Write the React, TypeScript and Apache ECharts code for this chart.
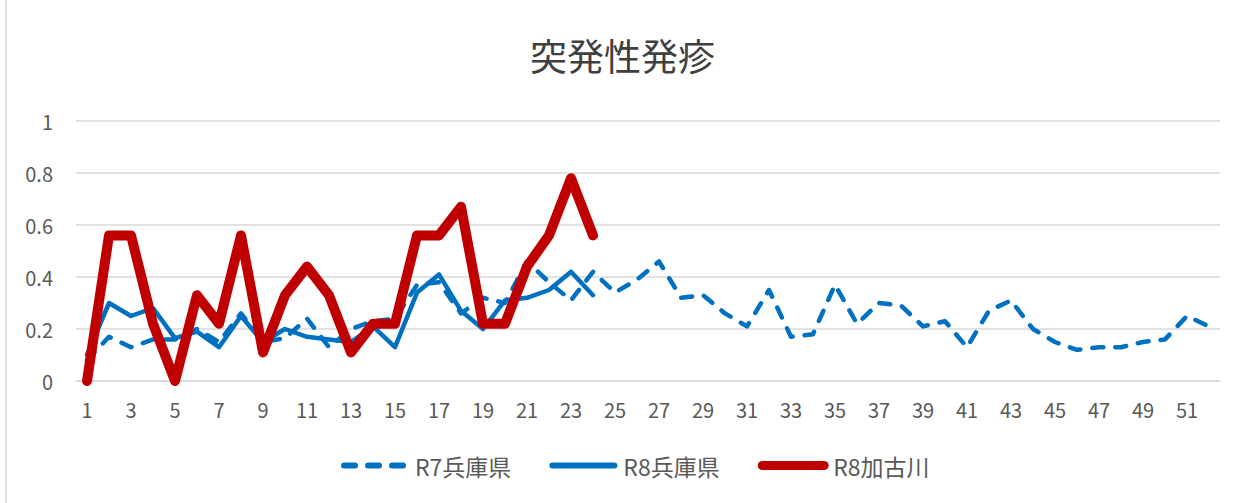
import React, { useEffect, useRef } from "react";
import * as echarts from "echarts";

const weeks: string[] = Array.from({ length: 52 }, (_, i) => String(i + 1));

const r7Hyogo: number[] = [
  0.08, 0.17, 0.13, 0.16, 0.16, 0.2, 0.15, 0.26, 0.15, 0.165,
  0.24, 0.13, 0.2, 0.23, 0.24, 0.37, 0.38, 0.26, 0.32, 0.3,
  0.46, 0.38, 0.31, 0.42, 0.34, 0.39, 0.46, 0.32, 0.33, 0.26,
  0.21, 0.35, 0.17, 0.18, 0.37, 0.22, 0.3, 0.29, 0.21, 0.23,
  0.13, 0.27, 0.31, 0.2, 0.15, 0.12, 0.13, 0.13, 0.15, 0.16,
  0.25, 0.21,
];

const r8Hyogo: number[] = [
  0.1, 0.3, 0.25, 0.28, 0.165, 0.19, 0.13, 0.25, 0.15, 0.2,
  0.17, 0.16, 0.15, 0.21, 0.13, 0.34, 0.41, 0.27, 0.2, 0.31,
  0.32, 0.35, 0.42, 0.33,
];

const r8Kakogawa: number[] = [
  0, 0.56, 0.56, 0.22, 0, 0.33, 0.22, 0.56, 0.11, 0.33,
  0.44, 0.33, 0.11, 0.22, 0.22, 0.56, 0.56, 0.67, 0.22, 0.22,
  0.44, 0.56, 0.78, 0.56,
];

const seriesNames = ["R7兵庫県", "R8兵庫県", "R8加古川"];
const titleText = "突発性発疹";

const FONT = '"Noto Sans CJK JP", "Noto Sans", sans-serif';
const BLUE = "#0070C0";
const RED = "#C00000";

export default function App() {
  const ref = useRef<HTMLDivElement>(null);

  useEffect(() => {
    if (!ref.current) return;
    const chart = echarts.init(ref.current, null, { renderer: "svg" });
    chart.setOption({
      animation: false,
      backgroundColor: "#ffffff",
      textStyle: { fontFamily: FONT },
      title: {
        text: titleText,
        left: "center",
        top: 31,
        textStyle: {
          fontSize: 37,
          fontWeight: "normal",
          color: "#404040",
          fontFamily: FONT,
        },
      },
      graphic: [
        {
          type: "line",
          shape: { x1: 6, y1: 0, x2: 6, y2: 503 },
          style: { stroke: "#d9d9d9", lineWidth: 1.5 },
          silent: true,
        },
      ],
      legend: {
        data: [
          { name: seriesNames[0], lineStyle: { width: 6, type: [11, 13], cap: "round", color: BLUE } },
          { name: seriesNames[1], lineStyle: { width: 6, type: "solid", cap: "round", color: BLUE } },
          { name: seriesNames[2], lineStyle: { width: 9, type: "solid", cap: "round", color: RED } },
        ],
        top: 449,
        left: 336,
        itemWidth: 62,
        itemHeight: 14,
        itemGap: 38,
        itemStyle: { opacity: 0 },
        textStyle: { fontSize: 23, color: "#595959", fontFamily: FONT, padding: [0, 0, 0, 4] },
      },
      grid: { left: 76, right: 25, top: 121, bottom: 122, containLabel: false },
      xAxis: {
        type: "category",
        data: weeks,
        boundaryGap: true,
        axisLine: { lineStyle: { color: "#d9d9d9", width: 1.5 } },
        axisTick: { show: false },
        axisLabel: {
          interval: 1,
          fontSize: 20,
          color: "#595959",
          margin: 18,
          fontFamily: FONT,
        },
      },
      yAxis: {
        type: "value",
        min: 0,
        max: 1,
        interval: 0.2,
        axisLine: { show: false },
        axisTick: { show: false },
        axisLabel: {
          fontSize: 20,
          color: "#595959",
          margin: 23,
          fontFamily: FONT,
        },
        splitLine: { lineStyle: { color: "#d9d9d9", width: 1.5 } },
      },
      series: [
        {
          name: seriesNames[0],
          type: "line",
          data: r7Hyogo,
          symbol: "none",
          color: BLUE,
          lineStyle: { color: BLUE, width: 4.5, type: [11, 12], cap: "round", join: "round" },
        },
        {
          name: seriesNames[1],
          type: "line",
          data: r8Hyogo,
          symbol: "none",
          color: BLUE,
          lineStyle: { color: BLUE, width: 4.5, type: "solid", cap: "round", join: "round" },
        },
        {
          name: seriesNames[2],
          type: "line",
          data: r8Kakogawa,
          symbol: "none",
          color: RED,
          lineStyle: { color: RED, width: 10, type: "solid", cap: "round", join: "round" },
        },
      ],
    });
    return () => chart.dispose();
  }, []);

  return (
    <div
      ref={ref}
      style={{ position: "fixed", left: 0, top: 0, width: 1245, height: 503 }}
    />
  );
}
